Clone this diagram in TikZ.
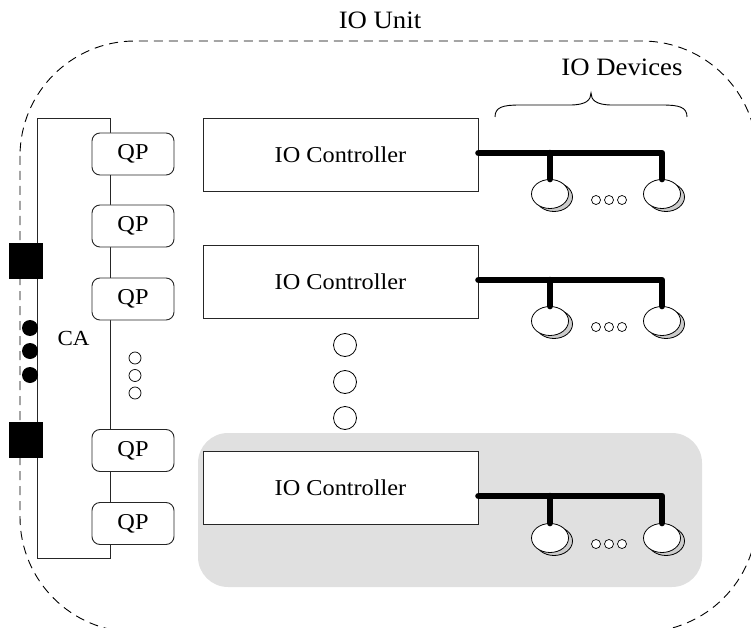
\documentclass[tikz,border=0pt]{standalone}
\usepackage{fontspec}
\setmainfont{Liberation Serif}[FakeStretch=1.07]
\usetikzlibrary{shapes.geometric,shadows}

\definecolor{panel}{HTML}{E0E0E0}
\definecolor{disk}{HTML}{CCCCCC}

\tikzset{
  edge/.style={draw=black!85, line width=0.9pt},
  qpbox/.style={edge, fill=white, rounded corners=8pt, minimum width=82pt,
    minimum height=42pt, inner sep=0pt, font=\fontsize{22.7}{26}\selectfont},
  ctrlbox/.style={edge, fill=white, minimum width=275pt, minimum height=73pt,
    inner sep=0pt, font=\fontsize{22.7}{26}\selectfont},
  port/.style={fill=black, minimum width=34pt, minimum height=36pt, inner sep=0pt},
  bigdot/.style={circle, fill=black, minimum size=16pt, inner sep=0pt},
  device/.style={ellipse, draw=black, line width=0.8pt, fill=white,
    minimum width=37pt, minimum height=29pt, inner sep=0pt,
    copy shadow={shadow xshift=4pt, shadow yshift=-3pt, fill=disk, draw=black, line width=0.8pt}},
  bus/.style={line width=6.5pt, line cap=round, line join=round},
  label/.style={font=\fontsize{25}{30}\selectfont}
}

\begin{document}
\begin{tikzpicture}[x=1pt, y=-1pt]
  \useasboundingbox (0,0) rectangle (751,628);
  \clip (0,0) rectangle (751,628);

  % shaded panel behind the last controller
  \fill[panel, rounded corners=30pt] (198,433) rectangle (702,587);

  % IO unit outline
  \draw[line width=0.9pt, dash pattern=on 9pt off 6pt, rounded corners=115pt]
    (20,41) rectangle (757,632);
  \node[label] (unit) at (380,20) {IO Unit};

  % channel adapter
  \node[edge, minimum width=73pt, minimum height=440pt, inner sep=0pt,
        font=\fontsize{21.5}{26}\selectfont] (ca) at (73.5,338) {CA};
  \node[port] (p1) at (26,261) {};
  \node[port] (p2) at (26,440) {};
  \node[bigdot] (k1) at (30,328) {};
  \node[bigdot] (k2) at (30,351) {};
  \node[bigdot] (k3) at (30,375) {};

  % queue pairs
  \node[qpbox] (q1) at (133,154) {QP};
  \node[qpbox] (q2) at (133,226) {QP};
  \node[qpbox] (q3) at (133,299) {QP};
  \node[qpbox] (q4) at (133,450.5) {QP};
  \node[qpbox] (q5) at (133,523.5) {QP};
  \foreach \yy in {358,375.5,393}
    \draw[line width=0.7pt] (135,\yy) circle[radius=6pt];

  % IO controllers
  \node[ctrlbox] (c1) at (340.5,154.5) {IO Controller};
  \node[ctrlbox] (c2) at (340.5,281.5) {IO Controller};
  \node[ctrlbox] (c3) at (340.5,487.5) {IO Controller};
  \foreach \yy in {345,382,418}
    \draw[line width=0.8pt, fill=white] (345,\yy) circle[radius=11.5pt];

  % IO devices
  \node[label] (devs) at (622,67) {IO Devices};
  \draw[line width=0.9pt]
    (495,117) .. controls (495,107) and (503,105) .. (520,105)
    -- (570,105) .. controls (586,105) and (591,100) .. (591,93)
    .. controls (591,100) and (596,105) .. (612,105)
    -- (662,105) .. controls (679,105) and (687,107) .. (687,117);

  % devices and buses, row by row
  \foreach \r/\by/\dy in {1/153/194, 2/280/321, 3/496/538}{
    \node[device] (d\r a) at (550,\dy) {};
    \node[device] (d\r b) at (662,\dy) {};
    \coordinate (b\r) at (662,\by);
    \coordinate (j\r) at (550,\by);
    \draw[bus] (c\r.east |- b\r) -- (b\r) -- (d\r b.north);
    \draw[bus] (j\r) -- (d\r a.north);
    \foreach \xx in {596,609,622}
      \draw[line width=0.7pt, fill=white] (\xx,\dy+6) circle[radius=4.5pt];
  }
\end{tikzpicture}
\end{document}
